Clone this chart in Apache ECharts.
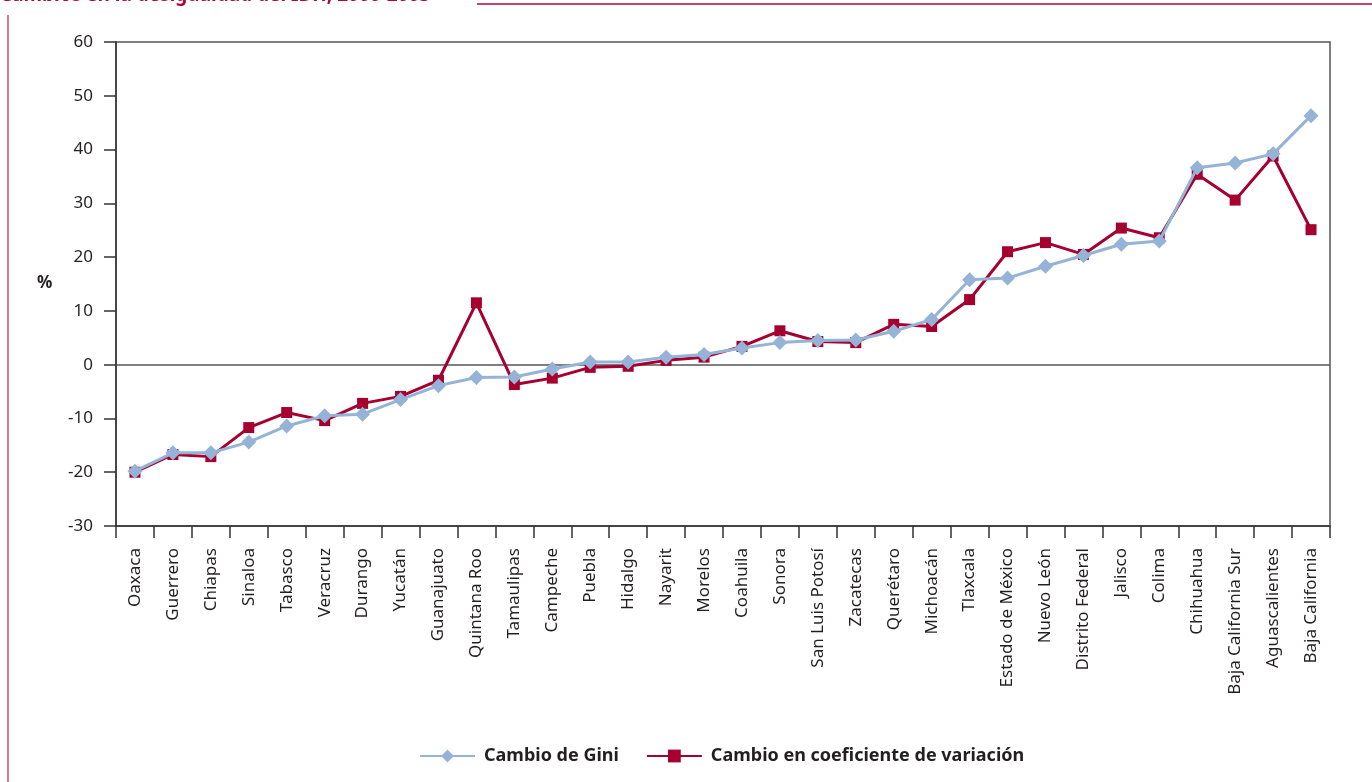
<!DOCTYPE html>
<html>
<head>
<meta charset="utf-8">
<script src="https://cdn.jsdelivr.net/npm/echarts@6/dist/echarts.min.js"></script>
<style>
  html, body { margin: 0; padding: 0; background: #fff; }
  #chart { width: 1372px; height: 782px; }
</style>
</head>
<body>
<div id="chart"></div>
<script>
// Entidades federativas, ordenadas por cambio en el Gini
const estados = [
  'Oaxaca', 'Guerrero', 'Chiapas', 'Sinaloa', 'Tabasco', 'Veracruz', 'Durango',
  'Yucatán', 'Guanajuato', 'Quintana Roo', 'Tamaulipas', 'Campeche', 'Puebla',
  'Hidalgo', 'Nayarit', 'Morelos', 'Coahuila', 'Sonora', 'San Luis Potosí',
  'Zacatecas', 'Querétaro', 'Michoacán', 'Tlaxcala', 'Estado de México',
  'Nuevo León', 'Distrito Federal', 'Jalisco', 'Colima', 'Chihuahua',
  'Baja California Sur', 'Aguascalientes', 'Baja California'
];

// Cambio porcentual del coeficiente de Gini del IDH, 2000-2005
const cambioGini = [
  -19.8, -16.4, -16.4, -14.4, -11.4, -9.5, -9.2, -6.5, -3.9, -2.4, -2.3, -0.8,
  0.5, 0.5, 1.4, 1.9, 3.1, 4.1, 4.5, 4.6, 6.2, 8.4, 15.8, 16.1, 18.3, 20.3,
  22.4, 23.0, 36.6, 37.5, 39.2, 46.3
];

// Cambio porcentual del coeficiente de variación del IDH, 2000-2005
const cambioCV = [
  -20.0, -16.7, -17.1, -11.7, -8.9, -10.4, -7.2, -5.9, -2.9, 11.5, -3.7, -2.5,
  -0.5, -0.3, 0.8, 1.4, 3.4, 6.3, 4.3, 4.1, 7.5, 7.1, 12.1, 21.0, 22.7, 20.5,
  25.4, 23.6, 35.4, 30.6, 38.8, 25.1
];

const yTicks = { min: -30, max: 60, step: 10 };

const titulo = 'Cambios en la desigualdad del IDH, 2000-2005';
const serieGini = 'Cambio de Gini';
const serieCV = 'Cambio en coeficiente de variación';

const azul = '#95b3d7';
const rojo = '#a5002f';
const tinta = '#231f20';
const fuente = '"Noto Sans", "Open Sans", sans-serif';

const chart = echarts.init(document.getElementById('chart'), null, { renderer: 'canvas' });

chart.setOption({
  backgroundColor: '#ffffff',
  animation: false,
  textStyle: { fontFamily: fuente, color: tinta },
  graphic: [
    {
      type: 'text', left: 0, top: -14, z: 10,
      style: { text: titulo, fill: '#b0063a', font: 'bold 19px ' + fuente }
    },
    {
      type: 'line', z: 10,
      shape: { x1: 477, y1: 4, x2: 1372, y2: 4 },
      style: { stroke: '#b0063a', lineWidth: 1.5 }
    },
    {
      type: 'line', z: 10,
      shape: { x1: 8, y1: 15, x2: 8, y2: 782 },
      style: { stroke: '#c0506e', lineWidth: 1.5 }
    },
    {
      type: 'text', left: 37, top: 275, z: 10,
      style: { text: '%', fill: tinta, font: 'bold 17px ' + fuente }
    }
  ],
  grid: {
    left: 116, right: 42, top: 42, bottom: 256,
    show: true, borderColor: '#555', borderWidth: 1.5, backgroundColor: 'transparent'
  },
  legend: {
    data: [serieGini, serieCV],
    bottom: 12,
    left: 414,
    itemWidth: 55,
    itemHeight: 16,
    itemGap: 27,
    textStyle: { fontFamily: fuente, fontSize: 18, fontWeight: 'bold', color: tinta, padding: [0, 0, 0, 4] }
  },
  xAxis: {
    type: 'category',
    data: estados,
    boundaryGap: true,
    axisLine: { onZero: false, lineStyle: { color: '#333', width: 1.5 } },
    axisTick: { show: true, length: 12, inside: false, alignWithLabel: false, lineStyle: { color: '#333', width: 1.5 } },
    axisLabel: {
      rotate: 90, interval: 0, margin: 22,
      fontFamily: fuente, fontSize: 17, color: tinta
    },
    splitLine: { show: false }
  },
  yAxis: {
    type: 'value',
    min: yTicks.min, max: yTicks.max, interval: yTicks.step,
    axisLine: { show: true, lineStyle: { color: '#333', width: 1.5 } },
    axisTick: { show: true, length: 12, lineStyle: { color: '#333', width: 1.5 } },
    axisLabel: { fontFamily: fuente, fontSize: 17, color: tinta, margin: 23 },
    splitLine: { show: false }
  },
  series: [
    {
      name: serieCV,
      type: 'line',
      data: cambioCV,
      symbol: 'rect',
      symbolSize: 11,
      lineStyle: { color: rojo, width: 3 },
      itemStyle: { color: rojo },
      z: 2,
      markLine: {
        silent: true,
        symbol: 'none',
        label: { show: false },
        lineStyle: { color: '#555', width: 1.5, type: 'solid' },
        data: [{ yAxis: 0 }],
        z: 1
      }
    },
    {
      name: serieGini,
      type: 'line',
      data: cambioGini,
      symbol: 'diamond',
      symbolSize: 15,
      lineStyle: { color: azul, width: 3 },
      itemStyle: { color: azul },
      z: 3
    }
  ]
});
</script>
</body>
</html>
